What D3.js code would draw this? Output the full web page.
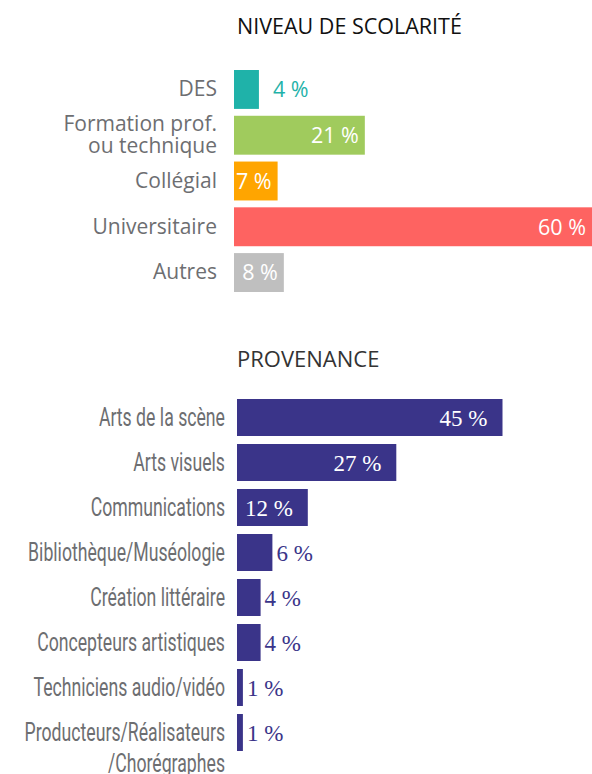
<!DOCTYPE html>
<html>
<head>
<meta charset="utf-8">
<script src="https://cdn.jsdelivr.net/npm/d3@7"></script>
<style>
	body { margin: 0; background: #fff; }
	svg { display: block; }
</style>
</head>
<body>
<div id="chart"></div>
<script>
var width = 592, height = 774;

// niveau de scolarité
var schoolCats = ["DES", "Formation prof.\nou technique", "Collégial", "Universitaire", "Autres"];
var schoolVals = [4, 21, 7, 60, 8];
var schoolColors = ["#1fb2a9", "#a0cb5d", "#ffa500", "#fe6361", "#bfbfbf"];

// provenance
var provCats = ["Arts de la scène", "Arts visuels", "Communications", "Bibliothèque/Muséologie",
	"Création littéraire", "Concepteurs artistiques", "Techniciens audio/vidéo",
	"Producteurs/Réalisateurs\n/Chorégraphes"];
var provVals = [45, 27, 12, 6, 4, 4, 1, 1];
var provColor = "#3a3489";

var svg = d3.select("#chart")
	.append("svg")
	.attr("width", width)
	.attr("height", height);

// multi-line tick labels, centred on the band
function splitLines(g, lh) {
	g.selectAll(".tick text").each(function (d) {
		var t = d3.select(this), lines = d.split("\n");
		if (lines.length < 2) return;
		t.text(null);
		lines.forEach(function (l, i) {
			t.append("tspan")
				.attr("x", t.attr("x"))
				.attr("dy", i == 0 ? (0.32 - lh * (lines.length - 1) / 2) + "em" : lh + "em")
				.text(l);
		});
	});
}

// ---- chart 1 ----
svg.append("text")
	.attr("x", 237).attr("y", 34)
	.attr("font-family", "Open Sans")
	.attr("font-size", 21.5)
	.attr("fill", "#111")
	.text("NIVEAU DE SCOLARITÉ");

var y1 = d3.scaleBand()
	.domain(schoolCats)
	.range([70, 292])
	.paddingInner(0.15);

var x1 = d3.scaleLinear()
	.domain([0, 60])
	.range([234, 234 + 60 * 6.23]);

svg.append("g")
	.selectAll("rect")
	.data(schoolVals)
	.join("rect")
	.attr("x", x1(0))
	.attr("y", (d, i) => y1(schoolCats[i]))
	.attr("width", d => x1(d) - x1(0))
	.attr("height", y1.bandwidth())
	.attr("fill", (d, i) => schoolColors[i]);

svg.append("g")
	.selectAll("text")
	.data(schoolVals)
	.join("text")
	.attr("x", d => d < 5 ? x1(d) + 14 : Math.min(x1(d), width) - 6)
	.attr("y", (d, i) => y1(schoolCats[i]) + y1.bandwidth() / 2)
	.attr("dy", "0.36em")
	.attr("text-anchor", d => d < 5 ? "start" : "end")
	.attr("font-family", "Open Sans")
	.attr("font-size", 21.5)
	.attr("fill", (d, i) => d < 5 ? schoolColors[i] : "#fff")
	.text(d => d + " %");

var yAxis1 = svg.append("g")
	.attr("transform", "translate(224,0)")
	.call(d3.axisLeft(y1).tickSize(0).tickPadding(7))
	.call(g => g.select(".domain").remove());
yAxis1.selectAll(".tick text")
	.attr("font-family", "Open Sans")
	.attr("font-size", 21)
	.attr("fill", "#6d6e71");
yAxis1.call(g => splitLines(g, 1.06));

// ---- chart 2 ----
svg.append("text")
	.attr("x", 237).attr("y", 367)
	.attr("font-family", "Open Sans")
	.attr("font-size", 22)
	.attr("fill", "#333")
	.text("PROVENANCE");

var y2 = d3.scaleBand()
	.domain(provCats)
	.range([399, 751])
	.paddingInner(0.178);

var x2 = d3.scaleLinear()
	.domain([0, 45])
	.range([237, 237 + 45 * 5.9]);

svg.append("g")
	.attr("fill", provColor)
	.selectAll("rect")
	.data(provVals)
	.join("rect")
	.attr("x", x2(0))
	.attr("y", (d, i) => y2(provCats[i]))
	.attr("width", d => x2(d) - x2(0))
	.attr("height", y2.bandwidth());

svg.append("g")
	.selectAll("text")
	.data(provVals)
	.join("text")
	.attr("x", d => d < 10 ? x2(d) + 4 : x2(d) - 15)
	.attr("y", (d, i) => y2(provCats[i]) + y2.bandwidth() / 2)
	.attr("dy", "0.35em")
	.attr("text-anchor", d => d < 10 ? "start" : "end")
	.attr("font-family", "Liberation Serif")
	.attr("font-size", 23)
	.attr("fill", d => d < 10 ? provColor : "#fff")
	.text(d => d + " %");

// condensed look: squeeze the axis group horizontally
var sx = 0.68;
var yAxis2 = svg.append("g")
	.attr("transform", "translate(225,0) scale(" + sx + ",1)")
	.call(d3.axisLeft(y2).tickSize(0).tickPadding(0))
	.call(g => g.select(".domain").remove());
yAxis2.selectAll(".tick text")
	.attr("font-family", "Roboto")
	.attr("font-size", 26)
	.attr("fill", "#6d6e71");
yAxis2.selectAll(".tick text").each(function (d) {
	var t = d3.select(this), lines = d.split("\n");
	if (lines.length < 2) return;
	t.text(null);
	lines.forEach(function (l, i) {
		t.append("tspan")
			.attr("x", t.attr("x"))
			.attr("dy", i == 0 ? "0.34em" : "1.17em")
			.text(l);
	});
});
</script>
</body>
</html>
